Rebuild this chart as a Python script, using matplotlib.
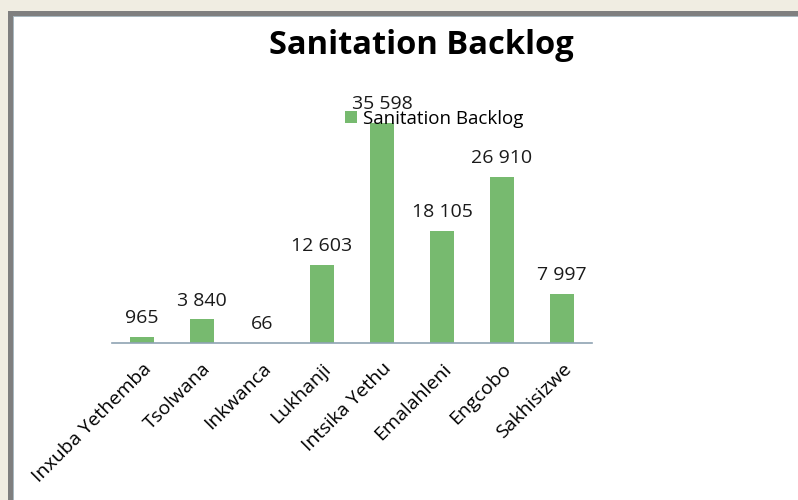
import matplotlib.pyplot as plt
from matplotlib.patches import Rectangle

municipalities = ["Inxuba Yethemba", "Tsolwana", "Inkwanca", "Lukhanji",
                  "Intsika Yethu", "Emalahleni", "Engcobo", "Sakhisizwe"]
backlog = [965, 3840, 66, 12603, 35598, 18105, 26910, 7997]

W, H = 798, 500
fig = plt.figure(figsize=(W / 100, H / 100), dpi=100, facecolor="#F0EDE2")

# grey frame and white panel, kept behind the axes
fig.patches.append(Rectangle((8 / W, 0), 1, 1 - 11 / H, transform=fig.transFigure,
                             facecolor="#7F7F7F", edgecolor="none", zorder=-10))
fig.patches.append(Rectangle((13 / W, 0), 1, 1 - 16 / H, transform=fig.transFigure,
                             facecolor="#A9B8C0", edgecolor="none", zorder=-9))
fig.patches.append(Rectangle((14 / W, 0), 1, 1 - 17 / H, transform=fig.transFigure,
                             facecolor="white", edgecolor="none", zorder=-8))

ax = fig.add_axes([112 / W, 1 - 343 / H, 480 / W, 247 / H])
ax.set_facecolor("none")
x = list(range(len(municipalities)))
bars = ax.bar(x, backlog, width=0.4, color="#77BA6F", label="Sanitation Backlog", zorder=2)
ax.set_xlim(-0.5, len(municipalities) - 0.5)
ax.set_ylim(0, 40000)

for i, v in enumerate(backlog):
    ax.annotate(f"{v:,}".replace(",", " "), (i, v), xytext=(0, 7), textcoords="offset points",
                ha="center", va="bottom", fontsize=14, family="Open Sans", color="#1a1a1a")

ax.set_xticks(x)
ax.set_xticklabels(municipalities, rotation=45, ha="right", rotation_mode="anchor",
                   fontsize=14, family="Open Sans")
ax.tick_params(axis="x", length=0, pad=12)
ax.set_yticks([])
for s in ["top", "right", "left"]:
    ax.spines[s].set_visible(False)
ax.spines["bottom"].set_color("#8FA3B3")
ax.spines["bottom"].set_linewidth(1.2)

fig.text(421 / W, 1 - 45 / H, "Sanitation Backlog", ha="center", va="center",
         fontsize=23.5, fontweight="bold", family="Open Sans")

leg = ax.legend(loc="center left", bbox_to_anchor=(336 / W, 1 - 119 / H),
                bbox_transform=fig.transFigure, frameon=False,
                prop={"family": "Open Sans", "size": 13.5},
                handlelength=0.6, handleheight=0.6, handletextpad=0.35, borderpad=0)
leg.set_zorder(5)

fig.savefig("out.png", dpi=100, facecolor=fig.get_facecolor())
